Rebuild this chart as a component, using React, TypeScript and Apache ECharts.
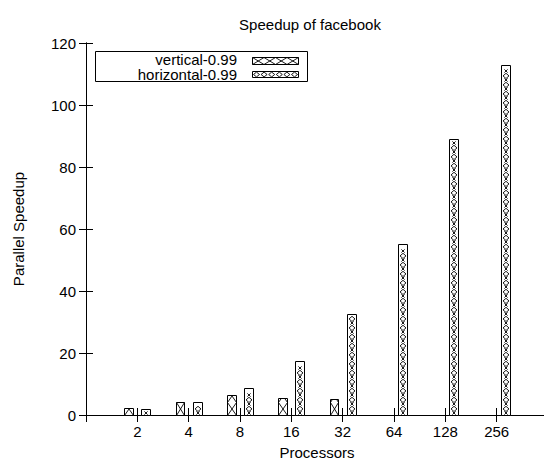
import React, { useEffect, useRef } from "react";
import * as echarts from "echarts";

const processors = ["2", "4", "8", "16", "32", "64", "128", "256"];
const verticalSpeedup: (number | null)[] = [2.2, 4.3, 6.5, 5.4, 5.1, null, null, null];
const horizontalSpeedup: (number | null)[] = [1.8, 4.3, 8.6, 17.4, 32.5, 55.2, 89.0, 113.0];
const seriesNames = ["vertical-0.99", "horizontal-0.99"];

const FONT = "'Liberation Sans', Arial, Helvetica, sans-serif";
const FS = 15;
const BAR_OFFSET = [-0.17, 0.165];
const BAR_HALF = 0.085;

type Pt = [number, number];

function zigzagV(x0: number, x1: number, yb: number, yt: number, p: number, startLeft: boolean): Pt[] {
  const pts: Pt[] = [];
  let k = 0;
  while (k < 500) {
    const y = yb - k * p;
    const atLeft = (k % 2 === 0) === startLeft;
    if (y <= yt) {
      const yPrev = yb - (k - 1) * p;
      const xa = !atLeft ? x0 : x1;
      const xb = atLeft ? x0 : x1;
      const t = (yPrev - yt) / p;
      pts.push([xa + (xb - xa) * t, yt]);
      break;
    }
    pts.push([atLeft ? x0 : x1, y]);
    k++;
  }
  return pts;
}

function xPattern(x0: number, x1: number, yb: number, yt: number): any[] {
  if (yb - yt < 2) return [];
  const st = { stroke: "#000", lineWidth: 0.9, fill: "none" };
  return [
    { type: "polyline", shape: { points: zigzagV(x0, x1, yb, yt, 13, true) }, style: st },
    { type: "polyline", shape: { points: zigzagV(x0, x1, yb, yt, 13, false) }, style: st },
  ];
}

function oPattern(x0: number, x1: number, yb: number, yt: number): any[] {
  const out: any[] = [];
  const cx = (x0 + x1) / 2;
  const st = { stroke: "#000", lineWidth: 0.9, fill: "none" };
  const per = 9;
  for (let k = 0; k < 200; k++) {
    const y0 = yb - k * per;
    const xc = y0 - 2.5;
    if (xc - 1.6 < yt + 1) break;
    out.push({ type: "line", shape: { x1: cx - 1.6, y1: xc - 1.6, x2: cx + 1.6, y2: xc + 1.6 }, style: st });
    out.push({ type: "line", shape: { x1: cx - 1.6, y1: xc + 1.6, x2: cx + 1.6, y2: xc - 1.6 }, style: st });
    const dc = y0 - 6.6;
    if (dc - 2.6 < yt + 0.5) break;
    out.push({
      type: "polygon",
      shape: { points: [[cx, dc - 2.6], [cx + 3, dc], [cx, dc + 2.6], [cx - 3, dc]] },
      style: st,
    });
  }
  return out;
}

function makeRender(offset: number, kind: "x" | "o") {
  return (_params: any, api: any) => {
    const xi = api.value(0);
    const v = api.value(1);
    if (v == null || isNaN(v)) return null;
    const p0 = api.coord([xi + offset - BAR_HALF, 0]);
    const p1 = api.coord([xi + offset + BAR_HALF, v]);
    const x0 = Math.round(p0[0]) + 0.5;
    const x1 = Math.round(p1[0]) + 0.5;
    const yb = Math.round(p0[1]) + 0.5;
    const yt = Math.round(p1[1]) + 0.5;
    const children: any[] = [
      { type: "rect", shape: { x: x0, y: yt, width: x1 - x0, height: yb - yt }, style: { fill: "#fff", stroke: "#000", lineWidth: 1 } },
    ];
    const pat = kind === "x" ? xPattern(x0, x1, yb, yt) : oPattern(x0, x1, yb, yt);
    return { type: "group", children: children.concat(pat) };
  };
}

function legendGraphic(): any[] {
  const st = { stroke: "#000", lineWidth: 0.9, fill: "none" };
  const els: any[] = [];
  els.push({ type: "rect", shape: { x: 95.5, y: 51.5, width: 212, height: 30 }, style: { fill: "#fff", stroke: "#000", lineWidth: 1 } });
  els.push({ type: "text", x: 237, y: 59, style: { text: seriesNames[0], align: "right", verticalAlign: "middle", fontSize: FS, fontFamily: FONT, fill: "#000" } });
  els.push({ type: "text", x: 237, y: 74.5, style: { text: seriesNames[1], align: "right", verticalAlign: "middle", fontSize: FS, fontFamily: FONT, fill: "#000" } });
  // sample 1
  const sx0 = 252.5, sx1 = 298.5;
  const r1t = 57.5, r1b = 64.5;
  els.push({ type: "rect", shape: { x: sx0, y: r1t, width: sx1 - sx0, height: r1b - r1t }, style: { fill: "#fff", stroke: "#000", lineWidth: 1 } });
  const p = 11.5;
  const a: Pt[] = [], b: Pt[] = [];
  for (let k = 0; k * p <= sx1 - sx0 + 0.1; k++) {
    a.push([sx0 + k * p, k % 2 === 0 ? r1b : r1t]);
    b.push([sx0 + k * p, k % 2 === 0 ? r1t : r1b]);
  }
  els.push({ type: "polyline", shape: { points: a }, style: st });
  els.push({ type: "polyline", shape: { points: b }, style: st });
  // sample 2
  const r2t = 71.5, r2b = 77.5;
  els.push({ type: "rect", shape: { x: sx0, y: r2t, width: sx1 - sx0, height: r2b - r2t }, style: { fill: "#fff", stroke: "#000", lineWidth: 1 } });
  const cy = (r2t + r2b) / 2;
  for (let k = 0; k < 6; k++) {
    const cx = sx0 + 4 + k * 7.6;
    els.push({ type: "polygon", shape: { points: [[cx, cy - 2.4], [cx + 3, cy], [cx, cy + 2.4], [cx - 3, cy]] }, style: st });
  }
  return els.map((e) => ({ ...e, z: 100 }));
}

export default function App() {
  const ref = useRef<HTMLDivElement>(null);
  useEffect(() => {
    if (!ref.current) return;
    const chart = echarts.init(ref.current, undefined, { renderer: "svg" });
    const axisCommon = {
      type: "value" as const,
      axisLine: { show: true, lineStyle: { color: "#000", width: 1 } },
      axisTick: { show: true, inside: true, length: 7, lineStyle: { color: "#000", width: 1 } },
      splitLine: { show: false },
    };
    chart.setOption({
      animation: false,
      backgroundColor: "#fff",
      title: {
        text: "Speedup of facebook",
        left: 305,
        top: 12,
        textAlign: "center",
        textStyle: { fontSize: FS, fontWeight: "normal", color: "#000", fontFamily: FONT },
      },
      grid: { left: 86, top: 43, right: -4, bottom: 46, containLabel: false, outerBoundsMode: "none" },
      xAxis: [
        {
          ...axisCommon,
          position: "bottom",
          min: 0,
          max: 9,
          interval: 1,
          axisLabel: {
            show: true,
            margin: 9,
            fontSize: FS,
            color: "#000",
            fontFamily: FONT,
            formatter: (v: number) => processors[v - 1] ?? "",
          },
          name: "Processors",
          nameLocation: "middle",
          nameGap: 30,
          nameTextStyle: { fontSize: FS, color: "#000", fontFamily: FONT },
        },
        {
          ...axisCommon,
          position: "top",
          min: 0,
          max: 9,
          interval: 1,
          axisLabel: { show: false },
        },
      ],
      yAxis: [
        {
          ...axisCommon,
          position: "left",
          min: 0,
          max: 120,
          interval: 20,
          axisLabel: { show: true, margin: 10, fontSize: FS, color: "#000", fontFamily: FONT },
          name: "Parallel Speedup",
          nameLocation: "middle",
          nameGap: 60,
          nameTextStyle: { fontSize: FS, color: "#000", fontFamily: FONT },
        },
        {
          ...axisCommon,
          position: "right",
          min: 0,
          max: 120,
          interval: 20,
          axisLabel: { show: false },
        },
      ],
      series: [
        {
          name: seriesNames[0],
          type: "custom",
          xAxisIndex: 0,
          yAxisIndex: 0,
          renderItem: makeRender(BAR_OFFSET[0], "x"),
          encode: { x: 0, y: 1 },
          data: verticalSpeedup
            .map((v, i) => [i + 1, v])
            .filter((d) => d[1] != null),
        },
        {
          name: seriesNames[1],
          type: "custom",
          xAxisIndex: 0,
          yAxisIndex: 0,
          renderItem: makeRender(BAR_OFFSET[1], "o"),
          encode: { x: 0, y: 1 },
          data: horizontalSpeedup
            .map((v, i) => [i + 1, v])
            .filter((d) => d[1] != null),
        },
      ],
      graphic: legendGraphic(),
    });
    return () => chart.dispose();
  }, []);
  return <div ref={ref} style={{ position: "absolute", left: 0, top: 0, width: 544, height: 461 }} />;
}
